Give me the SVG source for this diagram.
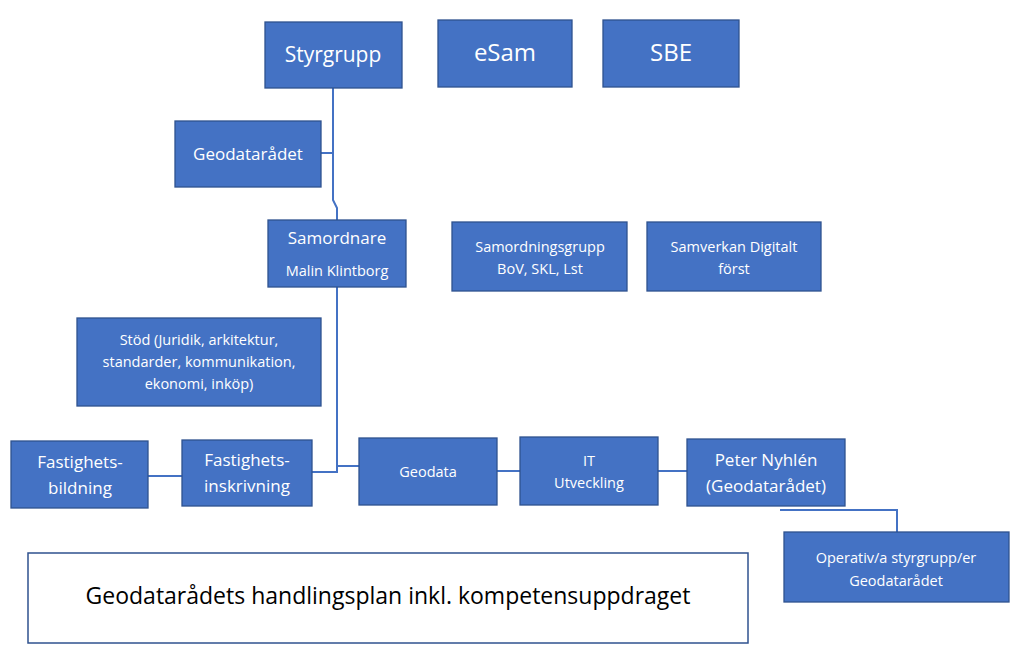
<svg xmlns="http://www.w3.org/2000/svg" width="1024" height="662" viewBox="0 0 1024 662">
<style>
.b{fill:#4472C4;stroke:#2F528F;stroke-width:1.3}
text{font-family:"Open Sans","Liberation Sans",sans-serif;fill:#fff;text-anchor:middle}
.l{font-size:21px}.m{font-size:17px}.s{font-size:14.5px}
.c{fill:none;stroke:#4472C4;stroke-width:2}
</style>
<rect width="1024" height="662" fill="#fff"/>
<g id="connectors">
<path class="c" d="M333 88V200L337 208V472H312M337 466H359"/>
<path class="c" d="M321 153H333"/>
<path class="c" d="M148 476H182M497 471H520M658 471H687"/>
<path class="c" d="M780 510H897V532" stroke-width="1.3"/>
</g>
<g id="styrgrupp"><rect class="b" x="265" y="22" width="137" height="66"/><text class="l" x="333" y="62">Styrgrupp</text></g>
<g id="esam"><rect class="b" x="438" y="20" width="134" height="67"/><text class="l" x="505" y="61" style="font-size:24px">eSam</text></g>
<g id="sbe"><rect class="b" x="603" y="20" width="136" height="67"/><text class="l" x="671" y="61" style="font-size:24px">SBE</text></g>
<g id="geodataradet"><rect class="b" x="175" y="121" width="146" height="66"/><text class="m" x="248" y="160">Geodatarådet</text></g>
<g id="samordnare"><rect class="b" x="268" y="220" width="138" height="67"/><text class="m" x="337" y="244">Samordnare</text><text class="s" x="337" y="276">Malin Klintborg</text></g>
<g id="samordningsgrupp"><rect class="b" x="452" y="222" width="175" height="69"/><text class="s" x="540" y="252">Samordningsgrupp</text><text class="s" x="540" y="274">BoV, SKL, Lst</text></g>
<g id="samverkan"><rect class="b" x="647" y="222" width="174" height="69"/><text class="s" x="734" y="252">Samverkan Digitalt</text><text class="s" x="734" y="274">först</text></g>
<g id="stod"><rect class="b" x="77" y="318" width="244" height="88"/><text class="s" x="199" y="345">Stöd (Juridik, arkitektur,</text><text class="s" x="199" y="367">standarder, kommunikation,</text><text class="s" x="199" y="389">ekonomi, inköp)</text></g>
<g id="fastighetsbildning"><rect class="b" x="11" y="441" width="137" height="67"/><text class="m" x="80" y="468">Fastighets-</text><text class="m" x="80" y="494">bildning</text></g>
<g id="fastighetsinskrivning"><rect class="b" x="182" y="440" width="130" height="66"/><text class="m" x="247" y="466">Fastighets-</text><text class="m" x="247" y="492">inskrivning</text></g>
<g id="geodata"><rect class="b" x="359" y="438" width="138" height="67"/><text class="s" x="428" y="477">Geodata</text></g>
<g id="it"><rect class="b" x="520" y="437" width="138" height="68"/><text class="s" x="589" y="466">IT</text><text class="s" x="589" y="488">Utveckling</text></g>
<g id="peter"><rect class="b" x="687" y="439" width="158" height="67"/><text class="m" x="766" y="466">Peter Nyhlén</text><text class="m" x="766" y="492">(Geodatarådet)</text></g>
<g id="operativ"><rect class="b" x="784" y="532" width="225" height="70"/><text class="s" x="896" y="563">Operativ/a styrgrupp/er</text><text class="s" x="896" y="586">Geodatarådet</text></g>
<g id="handlingsplan"><rect x="28" y="553" width="720" height="90" fill="#fff" stroke="#2F528F" stroke-width="1.5"/><text x="388" y="604" style="fill:#000;font-size:23px">Geodatarådets handlingsplan inkl. kompetensuppdraget</text></g>
</svg>
